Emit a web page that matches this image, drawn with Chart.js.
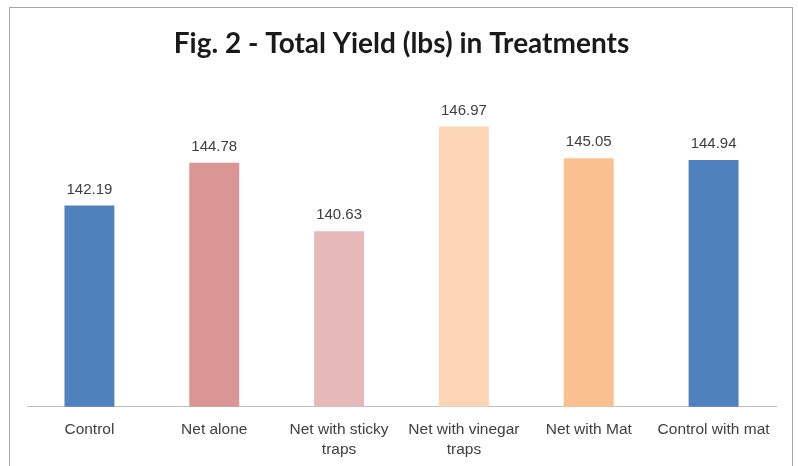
<!DOCTYPE html>
<html>
<head>
<meta charset="utf-8">
<script src="https://cdn.jsdelivr.net/npm/chart.js@4.4.1/dist/chart.umd.min.js"></script>
<style>
  html, body { margin: 0; padding: 0; background: #fff; overflow: hidden; }
  #wrap { position: relative; width: 798px; height: 466px; }
  #frame { position: absolute; left: 9px; top: 7px; width: 782px; height: 480px; border: 1px solid #a6a6a6; pointer-events: none; }
</style>
</head>
<body>
<div id="wrap">
  <canvas id="myChart" width="798" height="466"></canvas>
  <div id="frame"></div>
</div>
<script>
// Chart data
const treatments = [
  "Control",
  "Net alone",
  ["Net with sticky", "traps"],
  ["Net with vinegar", "traps"],
  "Net with Mat",
  "Control with mat",
];
const yieldLbs = [142.19, 144.78, 140.63, 146.97, 145.05, 144.94];
const barColors = ["#4f81bd", "#d99694", "#e6b9b8", "#fcd5b5", "#fac090", "#4f81bd"];

// value labels above the bars
const valueLabels = {
  id: "valueLabels",
  afterDatasetsDraw: (chart) => {
    const ctx = chart.ctx;
    const meta = chart.getDatasetMeta(0);
    ctx.save();
    ctx.font = "15px 'Liberation Sans', sans-serif";
    ctx.fillStyle = "#404040";
    ctx.textAlign = "center";
    ctx.textBaseline = "middle";
    meta.data.forEach((bar, i) => {
      ctx.fillText(yieldLbs[i].toFixed(2), bar.x, bar.y - 16);
    });
    ctx.restore();
  },
};

const ctx = document.getElementById("myChart");
new Chart(ctx, {
  type: "bar",
  data: {
    labels: treatments,
    datasets: [
      {
        data: yieldLbs,
        backgroundColor: barColors,
        barPercentage: 0.4,
        categoryPercentage: 1,
      },
    ],
  },
  options: {
    responsive: false,
    animation: false,
    layout: {
      padding: { left: 27, right: 22, top: 0, bottom: 1 },
    },
    plugins: {
      legend: { display: false },
      tooltip: { enabled: false },
      title: {
        display: true,
        text: "Fig. 2 - Total Yield (lbs) in Treatments",
        color: "#1a1a1a",
        font: { family: "Lato, 'Liberation Sans', sans-serif", size: 28, weight: "bold" },
        padding: { top: 27, bottom: 49 },
      },
    },
    scales: {
      x: {
        grid: { display: false },
        border: { color: "#bfbfbf" },
        ticks: {
          color: "#404040",
          font: { family: "'Liberation Sans', sans-serif", size: 15.5, lineHeight: 1.3 },
          padding: 5,
          maxRotation: 0,
          autoSkip: false,
        },
      },
      y: {
        display: false,
        min: 130,
        max: 148,
      },
    },
  },
  plugins: [valueLabels],
});
</script>
</body>
</html>
